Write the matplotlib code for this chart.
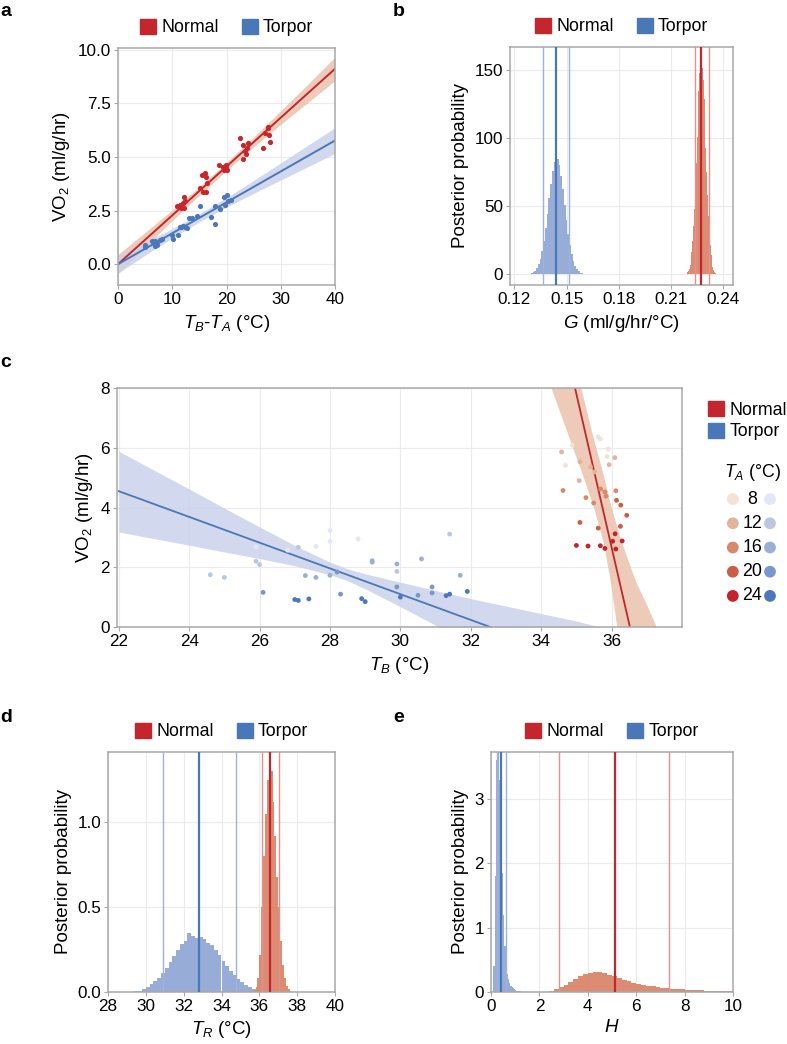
import numpy as np
import matplotlib.pyplot as plt
from matplotlib.patches import Patch

plt.rcParams['font.family'] = ['Liberation Sans', 'DejaVu Sans']
plt.rcParams['mathtext.fontset'] = 'custom'
plt.rcParams['mathtext.rm'] = 'Liberation Sans'
plt.rcParams['mathtext.it'] = 'Liberation Sans:italic'

RED = '#C3262C'
BLUE = '#4A77B7'
RED_BAND = '#EBC2AC'
BLUE_BAND = '#CAD2EA'
RED_HIST = '#D9866A'
BLUE_HIST = '#92A9D6'
RED_CI = '#E58F8F'
BLUE_CI = '#9DB3DC'

# ---- panel a: VO2 vs TB-TA ----
a_normal_x = [10.95, 11.4, 11.7, 12.1, 11.9, 12.3, 12.1, 15.1, 15.4, 16.0, 16.3, 15.7, 16.3, 16.4,
              18.6, 19.5, 19.9, 20.1, 19.4, 19.9, 22.5, 23.0, 23.1, 23.4, 23.7, 24.0, 23.6,
              26.8, 27.1, 27.7, 27.9, 28.0, 27.7]
a_normal_y = [2.69, 2.76, 2.61, 3.15, 2.84, 2.92, 2.61, 3.54, 4.16, 4.24, 4.08, 3.34, 3.34, 3.77,
              4.60, 4.39, 4.60, 4.39, 4.55, 4.47, 5.87, 4.91, 5.56, 5.25, 5.40, 5.64, 5.14,
              5.43, 6.10, 6.34, 6.02, 5.71, 6.41]
a_torpor_x = [4.9, 5.0, 6.2, 6.6, 6.9, 7.1, 7.2, 7.7, 8.2, 6.8, 10.0, 10.2, 11.1, 11.4, 11.7, 12.0,
              12.4, 12.7, 13.0, 13.7, 14.5, 15.1, 17.1, 17.8, 17.8, 18.8, 19.5, 20.0, 19.7, 20.3, 20.9]
a_torpor_y = [0.90, 0.82, 1.06, 0.98, 1.10, 0.90, 1.01, 1.13, 1.16, 0.85, 1.37, 1.16, 1.34, 1.71, 1.71, 1.79,
              1.75, 1.68, 2.14, 2.14, 2.25, 2.69, 2.22, 1.88, 2.69, 2.58, 3.15, 3.23, 2.76, 2.92, 2.97]
a_normal_slope = 0.2275
a_torpor_slope = 0.144
a_band_x = [0, 5, 10, 15, 20, 25, 30, 35, 40]
a_normal_lo = [-0.45, 0.80, 2.03, 3.21, 4.36, 5.46, 6.51, 7.53, 8.55]
a_normal_hi = [0.45, 1.48, 2.53, 3.61, 4.74, 5.92, 7.15, 8.39, 9.65]
a_torpor_lo = [-0.42, 0.42, 1.22, 1.97, 2.66, 3.30, 3.92, 4.54, 5.16]
a_torpor_hi = [0.42, 1.02, 1.66, 2.35, 3.10, 3.90, 4.72, 5.54, 6.36]

# ---- panel b: posterior of G ----
b_torpor_centers = np.round(np.arange(0.126, 0.1605, 0.001), 4)
b_torpor_heights = [0.03, 0.07, 0.16, 0.34, 0.69, 1.3, 2.4, 4.2, 7.0, 11.2, 16.9, 24.4, 33.6, 44.2,
                    55.6, 66.5, 75.9, 82.6, 85.8, 85.0, 80.3, 72.3, 62.4, 51.1, 39.9, 29.7, 21.2,
                    14.4, 9.3, 5.7, 3.4, 1.9, 1.0, 0.5, 0.25]
b_normal_centers = np.round(np.arange(0.2195, 0.2358, 0.0005), 5)
b_normal_heights = [1.2, 2.3, 3.9, 6.6, 10.5, 16.4, 24.5, 35, 48, 64, 82, 101, 118, 135, 148, 155,
                    157, 152, 143, 129, 111, 93, 75, 58, 43, 30, 21, 14, 8.8, 5.4, 3.1, 1.8, 1.0]
b_torpor_lines = [0.1366, 0.1441, 0.1515]
b_normal_lines = [0.2236, 0.2274, 0.2318]

# ---- panel c: VO2 vs TB, coloured by TA ----
ta_levels = [8, 12, 16, 20, 24]
ta_red = ['#F3E2D8', '#E4B39B', '#D8896B', '#CB5E45', '#C1252C']
ta_blue = ['#E3E6F4', '#BAC7E4', '#9AAFD8', '#7A97CB', '#4D77B9']
c_normal_tb = [34.88, 35.62, 35.68, 35.90, 35.87, 34.69,
               34.58, 35.10, 35.08, 35.40, 35.52, 35.93, 36.09,
               34.62, 35.69, 35.81, 35.84, 36.12, 35.27, 35.49,
               35.10, 35.62, 36.14, 36.26, 36.43, 36.25,
               35.00, 35.33, 35.68, 35.81, 36.03, 36.10, 36.12, 36.30]
c_normal_vo2 = [6.09, 6.36, 6.29, 5.96, 5.71, 5.41,
                5.86, 5.53, 4.90, 5.36, 5.19, 5.43, 5.67,
                4.57, 4.62, 4.52, 4.38, 4.56, 4.33, 4.15,
                3.50, 3.31, 4.24, 4.08, 3.74, 3.37,
                2.73, 2.71, 2.72, 2.63, 2.87, 3.12, 2.61, 2.88]
c_normal_ta = [8] * 6 + [12] * 7 + [16] * 7 + [20] * 6 + [24] * 8
c_torpor_tb = [28.0, 28.0, 28.8, 27.6, 26.8, 25.9,
               31.4, 25.9, 26.0, 29.9, 24.6, 25.0, 27.1,
               29.2, 29.2, 29.9, 30.6, 31.7, 27.3, 27.6, 28.0,
               28.2, 26.1, 28.3, 29.9, 30.9, 30.5, 30.9,
               27.0, 27.1, 27.4, 28.9, 29.0, 30.0, 31.3, 31.4, 31.9]
c_torpor_vo2 = [3.23, 2.87, 2.95, 2.70, 2.57, 2.68,
                3.11, 2.20, 2.09, 1.86, 1.75, 1.66, 2.67,
                2.17, 2.22, 2.11, 2.28, 1.73, 1.72, 1.66, 1.73,
                1.84, 1.16, 1.10, 1.34, 1.34, 1.06, 1.14,
                0.92, 0.89, 0.94, 0.95, 0.85, 1.00, 1.05, 1.10, 1.19]
c_torpor_ta = [8] * 6 + [12] * 7 + [16] * 8 + [20] * 7 + [24] * 9
c_torpor_slope, c_torpor_tr = -0.431, 32.55
c_normal_slope, c_normal_tr = -5.13, 36.52
c_torpor_band_x = [22, 23, 24, 25, 26, 27, 28, 28.5, 29, 30, 31, 32, 33, 34, 35, 36, 37, 38]
c_torpor_band_hi = [5.88, 5.25, 4.62, 3.98, 3.35, 2.73, 2.17, 1.95, 1.78, 1.50, 1.22, 0.95, 0.70,
                    0.45, 0.20, -0.10, -0.40, -0.70]
c_torpor_band_lo = [3.18, 2.96, 2.74, 2.51, 2.29, 2.05, 1.75, 1.55, 1.28, 0.68, 0.06, -0.58, -1.22,
                    -1.86, -2.51, -3.16, -3.80, -4.44]
c_normal_band_left_x = [33.8, 34.29, 34.75, 35.15, 35.5, 35.78, 35.98, 36.16, 36.3]
c_normal_band_left_y = [10.5, 8.0, 6.5, 5.2, 4.0, 2.8, 1.5, 0.0, -1.0]
c_normal_band_right_x = [34.75, 35.14, 35.45, 35.75, 36.0, 36.3, 36.7, 37.0, 37.28, 37.6]
c_normal_band_right_y = [10.5, 8.0, 6.5, 5.2, 4.0, 2.8, 1.5, 0.75, 0.0, -0.6]

# ---- panel d: posterior of TR ----
d_torpor_centers = np.round(np.arange(29.5, 36.55, 0.2), 2)
d_torpor_heights = [0.003, 0.008, 0.015, 0.028, 0.045, 0.065, 0.085, 0.11, 0.14, 0.175, 0.21, 0.245,
                    0.28, 0.30, 0.345, 0.33, 0.32, 0.325, 0.31, 0.29, 0.275, 0.245, 0.215, 0.185,
                    0.155, 0.125, 0.10, 0.075, 0.057, 0.042, 0.03, 0.02, 0.012, 0.008, 0.004, 0.002]
d_normal_centers = np.round(np.arange(35.75, 37.7, 0.1), 2)
d_normal_heights = [0.01, 0.03, 0.08, 0.22, 0.5, 0.8, 1.05, 1.25, 1.36, 1.3, 1.12, 0.92, 0.68, 0.5,
                    0.3, 0.16, 0.08, 0.035, 0.015, 0.005]
d_torpor_lines = [30.91, 32.82, 34.76]
d_normal_lines = [36.15, 36.59, 37.05]

# ---- panel e: posterior of H ----
e_torpor_centers = np.round(np.arange(0.125, 1.45, 0.05), 3)
e_torpor_heights = [0.4, 1.8, 3.6, 4.3, 4.0, 3.3, 2.6, 1.85, 1.2, 0.72, 0.42, 0.28, 0.2, 0.14, 0.1,
                    0.075, 0.055, 0.04, 0.03, 0.022, 0.016, 0.012, 0.008, 0.005, 0.003, 0.002, 0.001]
e_normal_centers = np.round(np.arange(2.3, 10.0, 0.2), 2)
e_normal_heights = [0.003, 0.012, 0.04, 0.07, 0.105, 0.15, 0.2, 0.245, 0.28, 0.3, 0.315, 0.31,
                    0.295, 0.27, 0.245, 0.215, 0.19, 0.165, 0.145, 0.127, 0.112, 0.099, 0.088, 0.078,
                    0.069, 0.061, 0.054, 0.048, 0.042, 0.037, 0.033, 0.029, 0.026, 0.023, 0.02,
                    0.018, 0.016, 0.014, 0.012]
e_torpor_lines = [0.24, 0.41, 0.63]
e_normal_lines = [2.79, 5.13, 7.36]

TICK_FS = 12.3
LABEL_FS = 13.5
LEG_FS = 12.8


def style_ax(ax):
    for s in ax.spines.values():
        s.set_color('#A8A8A8')
        s.set_linewidth(1.1)
    ax.grid(True, color='#EBEBEB', linewidth=0.8)
    ax.set_axisbelow(True)
    ax.tick_params(labelsize=TICK_FS, length=3, width=0.8, color='#A8A8A8', pad=2)


def top_legend(ax):
    handles = [Patch(color=RED, label='Normal'), Patch(color=BLUE, label='Torpor')]
    ax.legend(handles=handles, loc='lower center', bbox_to_anchor=(0.5, 1.0), ncol=2,
              frameon=False, fontsize=LEG_FS, handlelength=0.9, handleheight=0.9,
              handletextpad=0.3, columnspacing=1.3, borderaxespad=0.25)


def hist(ax, centers, heights, width, color):
    ax.bar(centers, heights, width=width, color=color, linewidth=0, alpha=0.95, zorder=2)


def ci_lines(ax, vals, light, dark):
    ax.axvline(vals[0], color=light, lw=1.0, zorder=3)
    ax.axvline(vals[2], color=light, lw=1.0, zorder=3)
    ax.axvline(vals[1], color=dark, lw=1.6, zorder=4)


W, H = 787, 1044
fig = plt.figure(figsize=(W / 100, H / 100), dpi=100)


def add_axes(l, r, t, b):
    return fig.add_axes([l / W, 1 - b / H, (r - l) / W, (b - t) / H])


# panel a
ax = add_axes(118, 335, 48, 285)
style_ax(ax)
ax.fill_between(a_band_x, a_normal_lo, a_normal_hi, color=RED_BAND, alpha=0.85, lw=0)
ax.fill_between(a_band_x, a_torpor_lo, a_torpor_hi, color=BLUE_BAND, alpha=0.85, lw=0)
xs = np.array([0, 40])
ax.plot(xs, a_normal_slope * xs, color=RED, lw=1.4)
ax.plot(xs, a_torpor_slope * xs, color=BLUE, lw=1.4)
ax.scatter(a_normal_x, a_normal_y, s=14, color='#C8262C', lw=0, zorder=3)
ax.scatter(a_torpor_x, a_torpor_y, s=14, color='#4A78BA', lw=0, zorder=3)
ax.set_xlim(0, 40)
ax.set_ylim(-0.97, 10.07)
ax.set_xticks([0, 10, 20, 30, 40])
ax.set_yticks([0, 2.5, 5, 7.5, 10])
ax.set_yticklabels(['0.0', '2.5', '5.0', '7.5', '10.0'])
ax.set_xlabel(r'$T_B$-$T_A$ (°C)', fontsize=LABEL_FS)
ax.set_ylabel(r'VO$_2$ (ml/g/hr)', fontsize=LABEL_FS)
top_legend(ax)

# panel b
ax = add_axes(510, 733, 47, 285)
style_ax(ax)
hist(ax, b_torpor_centers, b_torpor_heights, 0.001, BLUE_HIST)
hist(ax, b_normal_centers, b_normal_heights, 0.0005, RED_HIST)
ci_lines(ax, b_torpor_lines, BLUE_CI, BLUE)
ci_lines(ax, b_normal_lines, RED_CI, RED)
ax.set_xlim(0.1175, 0.2456)
ax.set_ylim(-8.1, 167.1)
ax.set_xticks([0.12, 0.15, 0.18, 0.21, 0.24])
ax.set_yticks([0, 50, 100, 150])
ax.set_xlabel(r'$G$ (ml/g/hr/°C)', fontsize=LABEL_FS)
ax.set_ylabel('Posterior probability', fontsize=LABEL_FS)
top_legend(ax)

# panel c
ax = add_axes(117, 682, 388, 627)
style_ax(ax)
ax.fill_between(c_torpor_band_x, c_torpor_band_lo, c_torpor_band_hi, color=BLUE_BAND, alpha=0.85, lw=0)
ax.fill(c_normal_band_left_x + c_normal_band_right_x[::-1],
        c_normal_band_left_y + c_normal_band_right_y[::-1], color=RED_BAND, alpha=0.85, lw=0)
xt = np.array([22, 38])
ax.plot(xt, c_torpor_slope * (xt - c_torpor_tr), color=BLUE, lw=1.3)
xn = np.array([34, 37.5])
ax.plot(xn, c_normal_slope * (xn - c_normal_tr), color=RED, lw=1.3)
red_map = dict(zip(ta_levels, ta_red))
blue_map = dict(zip(ta_levels, ta_blue))
ax.scatter(c_torpor_tb, c_torpor_vo2, s=12, c=[blue_map[t] for t in c_torpor_ta], lw=0, zorder=3)
ax.scatter(c_normal_tb, c_normal_vo2, s=12, c=[red_map[t] for t in c_normal_ta], lw=0, zorder=3)
ax.set_xlim(21.95, 38)
ax.set_ylim(0, 8)
ax.set_xticks(range(22, 37, 2))
ax.set_yticks([0, 2, 4, 6, 8])
ax.set_xlabel(r'$T_B$ (°C)', fontsize=LABEL_FS)
ax.set_ylabel(r'VO$_2$ (ml/g/hr)', fontsize=LABEL_FS)

fig.legend(handles=[Patch(color=RED, label='Normal'), Patch(color=BLUE, label='Torpor')],
           loc='upper left', bbox_to_anchor=(708 / W, 1 - 401 / H), frameon=False, fontsize=LEG_FS,
           handlelength=0.9, handleheight=0.9, handletextpad=0.3, labelspacing=0.25,
           borderaxespad=0, borderpad=0)
fig.text(724 / W, 1 - 473 / H, r'$T_A$ (°C)', fontsize=LEG_FS, va='center', ha='left')
key = add_axes(722, 782, 487, 608)
key.axis('off')
key.set_xlim(0, 1)
key.set_ylim(len(ta_levels) - 0.5, -0.5)
rows = np.arange(len(ta_levels))
key.scatter(np.full(len(rows), 0.18), rows, s=72, c=ta_red, lw=0)
key.scatter(np.full(len(rows), 0.80), rows, s=72, c=ta_blue, lw=0)
for r, t in zip(rows, ta_levels):
    key.text(0.5, r, str(t), ha='center', va='center', fontsize=LEG_FS)

# panel d
ax = add_axes(108, 335, 752, 992)
style_ax(ax)
hist(ax, d_torpor_centers, d_torpor_heights, 0.2, BLUE_HIST)
hist(ax, d_normal_centers, d_normal_heights, 0.1, RED_HIST)
ci_lines(ax, d_torpor_lines, BLUE_CI, BLUE)
ci_lines(ax, d_normal_lines, RED_CI, RED)
ax.set_xlim(28, 40)
ax.set_ylim(0, 1.413)
ax.set_xticks(range(28, 41, 2))
ax.set_yticks([0, 0.5, 1.0])
ax.set_yticklabels(['0.0', '0.5', '1.0'])
ax.set_xlabel(r'$T_R$ (°C)', fontsize=LABEL_FS)
ax.set_ylabel('Posterior probability', fontsize=LABEL_FS)
top_legend(ax)

# panel e
ax = add_axes(491, 733, 752, 992)
style_ax(ax)
hist(ax, e_torpor_centers, e_torpor_heights, 0.05, BLUE_HIST)
hist(ax, e_normal_centers, e_normal_heights, 0.2, RED_HIST)
ci_lines(ax, e_torpor_lines, BLUE_CI, BLUE)
ci_lines(ax, e_normal_lines, RED_CI, RED)
ax.set_xlim(0, 10)
ax.set_ylim(0, 3.73)
ax.set_xticks(range(0, 11, 2))
ax.set_yticks([0, 1, 2, 3])
ax.set_xlabel(r'$H$', fontsize=LABEL_FS)
ax.set_ylabel('Posterior probability', fontsize=LABEL_FS)
top_legend(ax)

for lab, x, y in [('a', 0, 11), ('b', 393, 11), ('c', 0, 363), ('d', 0, 718), ('e', 393, 718)]:
    fig.text(x / W, 1 - y / H, lab, fontsize=14, fontweight='bold', va='center', ha='left')

fig.savefig('out.png', dpi=100)
